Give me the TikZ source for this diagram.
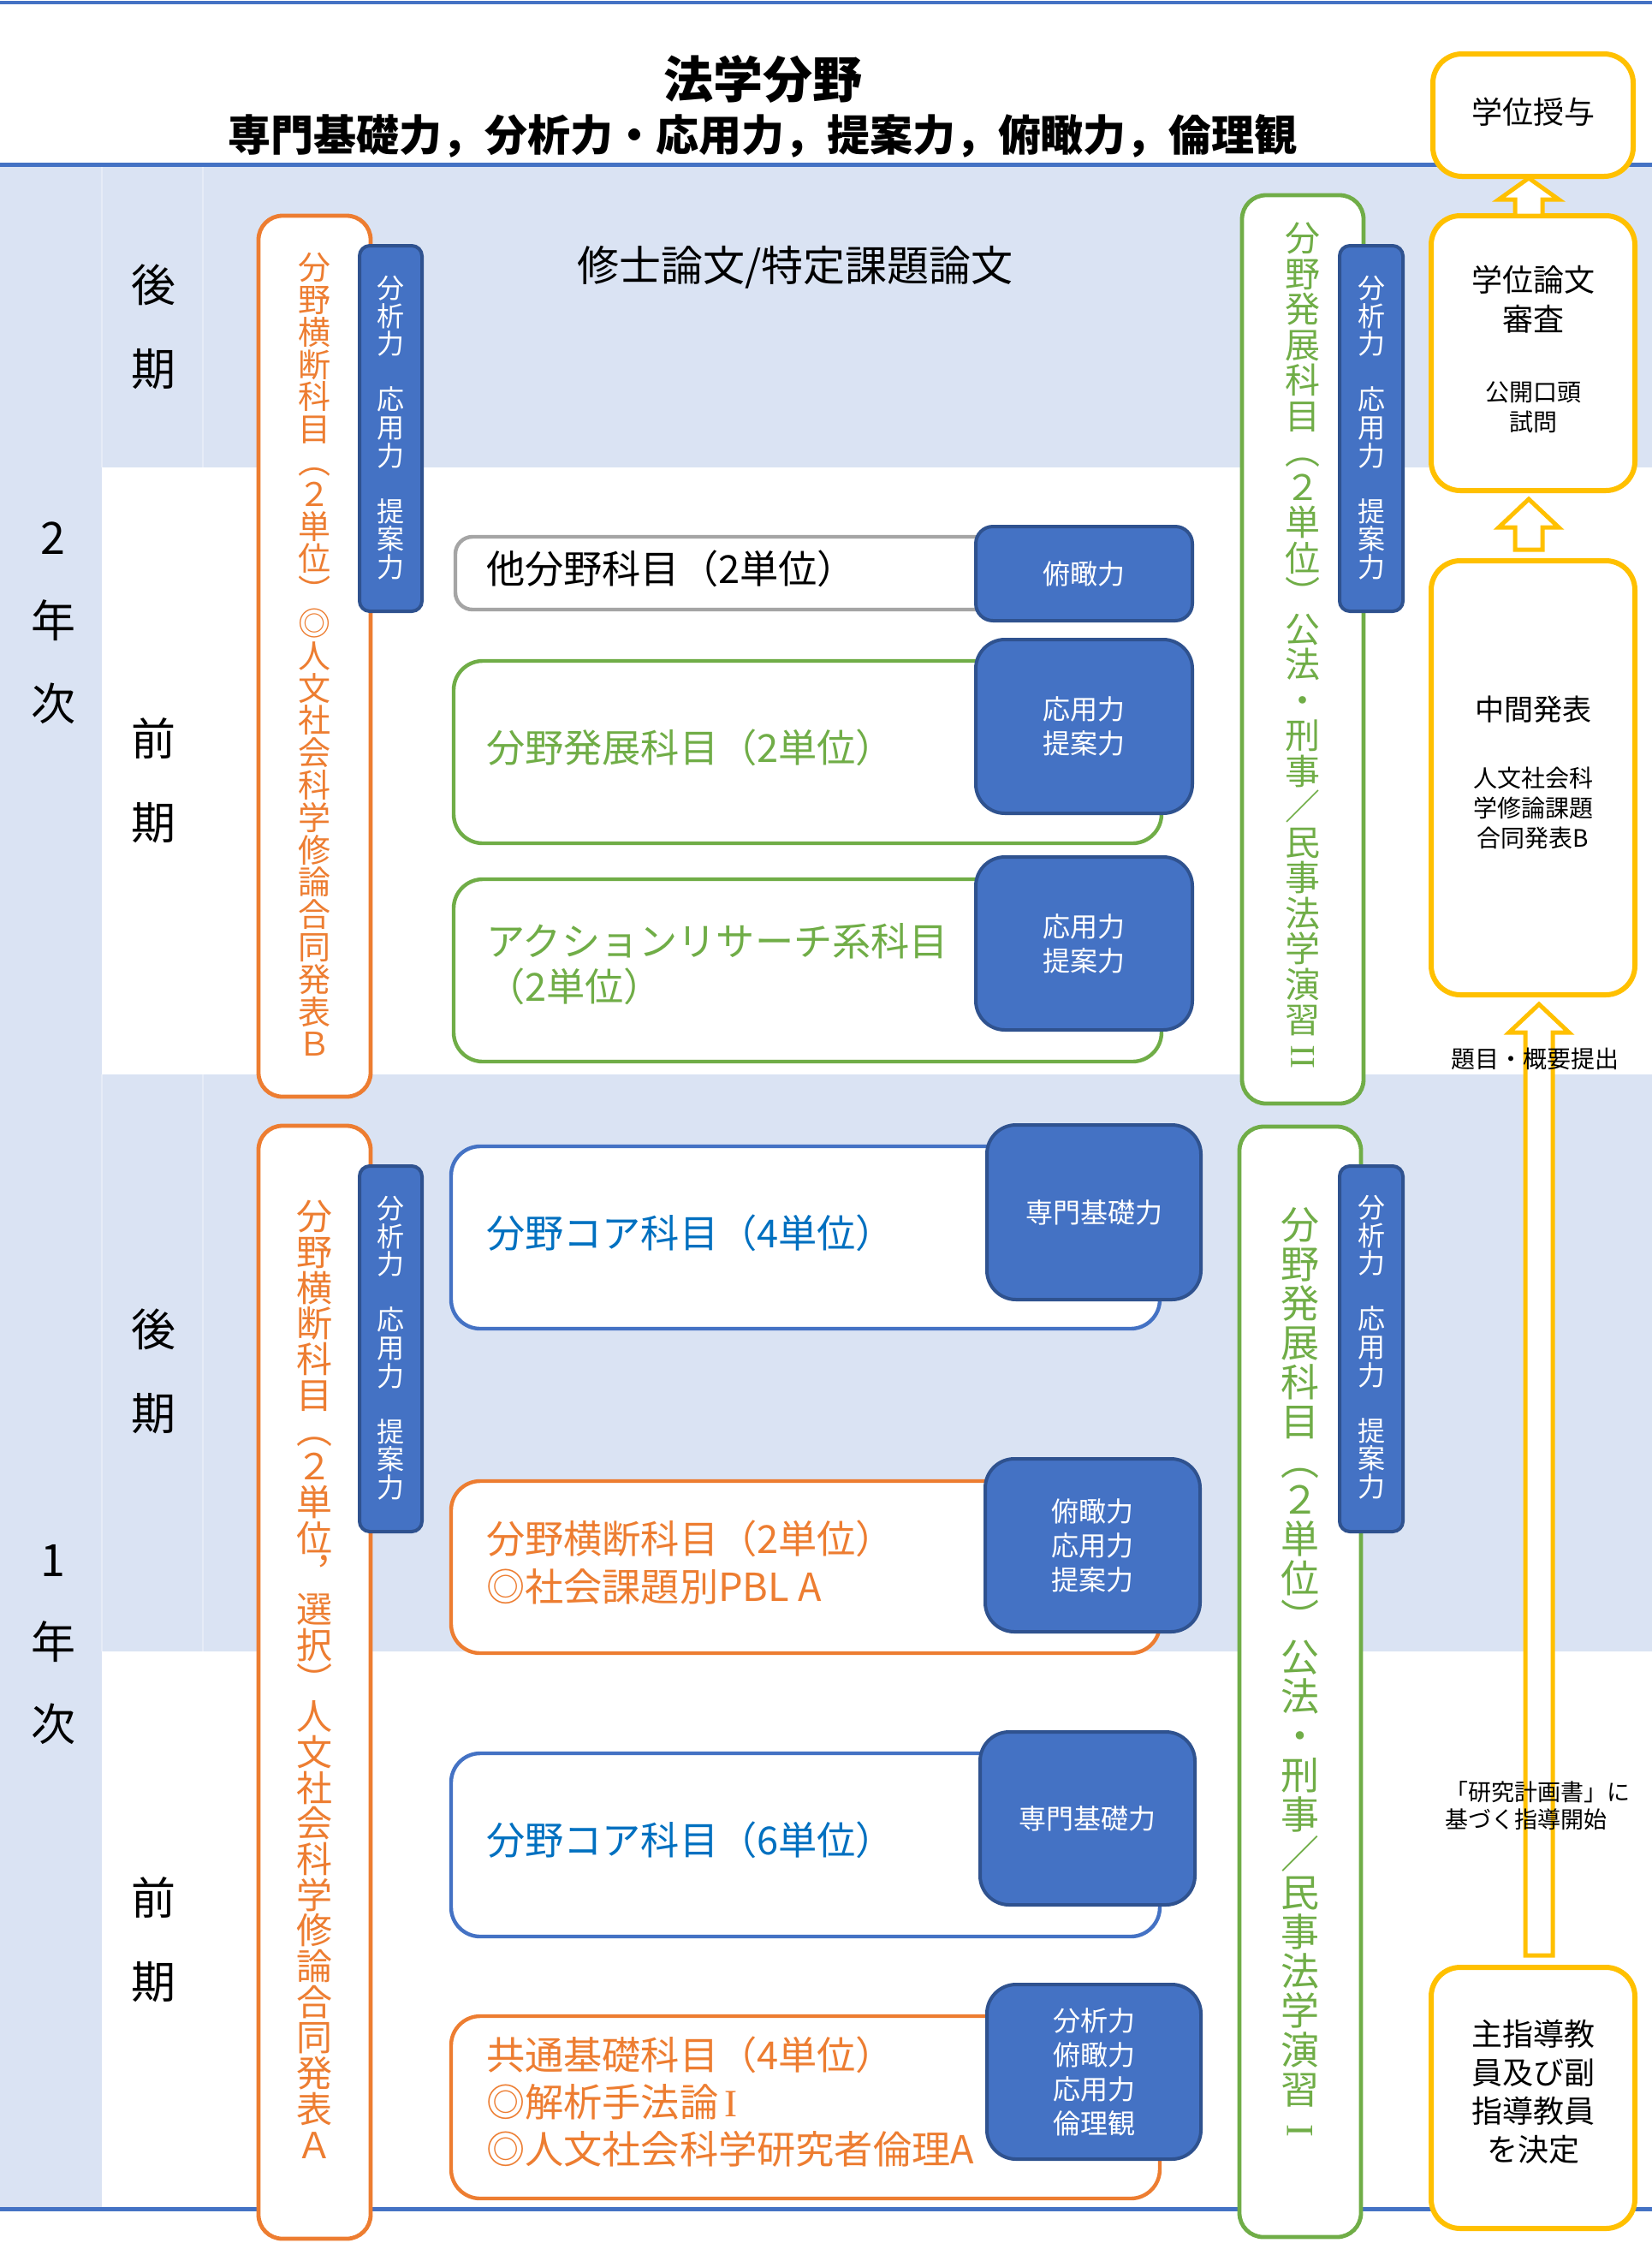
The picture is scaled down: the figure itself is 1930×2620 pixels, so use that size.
\documentclass[tikz,border=0pt]{standalone}
\usepackage{fontspec}
\usepackage{graphicx}
\setmainfont{Noto Sans CJK JP}
\newfontfamily\romanfont{Liberation Serif}
\usetikzlibrary{calc}
\definecolor{bandblue}{HTML}{DAE3F3}
\definecolor{faint}{HTML}{E6ECF7}
\definecolor{lineblue}{HTML}{4472C4}
\definecolor{cblue}{HTML}{4472C4}
\definecolor{cdark}{HTML}{2F528F}
\definecolor{corange}{HTML}{ED7D31}
\definecolor{cgreen}{HTML}{70AD47}
\definecolor{cgray}{HTML}{A5A5A5}
\definecolor{cyellow}{HTML}{FFC000}
\definecolor{tblue}{HTML}{0070C0}
\makeatletter
\newdimen\tatep
\newcommand\tate[2]{\tatep=#1\relax\vbox{\offinterlineskip\@tfor\tate@c:=#2\do{\hbox to 2\tatep{\hss\vrule height .88\tatep depth .12\tatep width 0pt\tate@c\hss}}}}
\makeatother
\newcommand\blockup[3]{%
 \draw[yarrow] let \p1=(#1), \p2=(#2) in
  (\x1-8pt,\y1) -- (\x1-8pt,\y2-#3) -- (\x1-17.5pt,\y2-#3) -- (\x1,\y2)
  -- (\x1+17.5pt,\y2-#3) -- (\x1+8pt,\y2-#3) -- (\x1+8pt,\y1) -- cycle;}
\begin{document}
\begin{tikzpicture}[x=0.5pt,y=-0.5pt,
  every node/.style={inner sep=0pt,outer sep=0pt},
  yel/.style={draw=cyellow,line width=3pt,fill=white,rounded corners=17pt},
  obox/.style={draw=corange,line width=2.4pt,fill=white,rounded corners=14pt},
  gbox/.style={draw=cgreen,line width=2.4pt,fill=white,rounded corners=14pt},
  course/.style={line width=2.2pt,fill=white,rounded corners=17pt},
  skill/.style={draw=cdark,line width=2pt,fill=cblue,rounded corners=17pt,text=white,align=center,font=\fontsize{16pt}{20pt}\selectfont},
  vskill/.style={draw=cdark,line width=2pt,fill=cblue,rounded corners=6pt},
  vtxt/.style={text=white,font=\fontsize{16pt}{16pt}\selectfont},
  yarrow/.style={draw=cyellow,line width=2.5pt,fill=white,line join=miter},
  ctext/.style={anchor=west,align=left,font=\fontsize{22.6pt}{26.5pt}\selectfont},
  bigl/.style={align=center,font=\fontsize{26pt}{49pt}\selectfont}]
\useasboundingbox (0,0) rectangle (1930,2620);
\fill[white] (0,0) rectangle (1930,2620);
% bands
\fill[bandblue] (0,194) rectangle (119,2578);
\fill[bandblue] (119,194) rectangle (1930,546);
\fill[bandblue] (119,1255) rectangle (1930,1929);
\draw[faint,line width=0.8pt] (119,194) -- (119,546) (237,194) -- (237,546);
\draw[faint,line width=0.8pt] (119,1255) -- (119,1929) (237,1255) -- (237,1929);
% horizontal rules
\draw[lineblue,line width=2pt] (0,3) -- (1930,3);
\draw[lineblue,line width=2.5pt] (0,192) -- (1930,192);
\draw[lineblue,line width=2.5pt] (0,2580) -- (1930,2580);
% header
\node[font=\bfseries\fontsize{29pt}{29pt}\selectfont] (title) at (891,93) {法学分野};
\node[font=\bfseries\fontsize{25pt}{25pt}\selectfont] (subtitle) at (891,159) {専門基礎力，分析力・応用力，提案力，俯瞰力，倫理観};
% year / semester labels
\node[bigl,font=\fontsize{26pt}{48.5pt}\selectfont] (y2) at (62,728) {2\\年\\次};
\node[bigl,font=\fontsize{26pt}{48pt}\selectfont] (y1) at (62,1921) {1\\年\\次};
\node[bigl] (s2b) at (179,382) {後\\期};
\node[bigl] (s2a) at (179,911.5) {前\\期};
\node[bigl] (s1b) at (179,1602) {後\\期};
\node[bigl] (s1a) at (179,2266) {前\\期};
% thesis label
\node[font=\fontsize{24.5pt}{24.5pt}\selectfont] (thesis) at (929,312) {修士論文/特定課題論文};
% vertical orange boxes
\node[obox,minimum width=65.5pt,minimum height=514.5pt] (oB) at (367.5,766.5) {};
\node[text=corange,font=\fontsize{19pt}{19pt}\selectfont] (oBt) at (367.5,766) {\tate{18.9pt}{分野横断科目︵２単位︶◎人文社会科学修論合同発表Ｂ}};
\node[obox,minimum width=65.5pt,minimum height=650pt] (oA) at (367.5,1965) {};
\node[text=corange,font=\fontsize{21pt}{21pt}\selectfont] (oAt) at (367.5,1963) {\tate{20.85pt}{分野横断科目︵２単位︐選択︶人文社会科学修論合同発表Ａ}};
% vertical green boxes
\node[gbox,minimum width=71pt,minimum height=530.5pt] (gII) at (1522,758.5) {};
\node[text=cgreen,font=\fontsize{20.5pt}{20.5pt}\selectfont] (gIIt) at (1522,755) {\tate{20.75pt}{分野発展科目︵２単位︶公法・刑事／民事法学演習{\rotatebox[origin=c]{90}{\romanfont II}}}};
\node[gbox,minimum width=71pt,minimum height=648.5pt] (gI) at (1519,1964.5) {};
\node[text=cgreen,font=\fontsize{22.5pt}{22.5pt}\selectfont] (gIt) at (1519,1958) {\tate{22.95pt}{分野発展科目︵２単位︶公法・刑事／民事法学演習{\rotatebox[origin=c]{90}{\romanfont I}}}};
% vertical skill boxes
\node[vskill,minimum width=36.5pt,minimum height=213.5pt] (vL2) at (456.5,500.5) {};
\node[vtxt] (vL2t) at (456.5,499) {\tate{16.3pt}{分析力　応用力　提案力}};
\node[vskill,minimum width=36.5pt,minimum height=213.5pt] (vL1) at (456.5,1575.5) {};
\node[vtxt] (vL1t) at (456.5,1574) {\tate{16.3pt}{分析力　応用力　提案力}};
\node[vskill,minimum width=37pt,minimum height=213.5pt] (vR2) at (1602,500.5) {};
\node[vtxt] (vR2t) at (1602,499) {\tate{16.3pt}{分析力　応用力　提案力}};
\node[vskill,minimum width=37pt,minimum height=213.5pt] (vR1) at (1602,1575.5) {};
\node[vtxt] (vR1t) at (1602,1573) {\tate{16.3pt}{分析力　応用力　提案力}};
% course boxes
\node[course,draw=cgray,rounded corners=10pt,minimum width=384pt,minimum height=42.5pt] (c1) at (916,669.5) {};
\node[course,draw=cgreen,minimum width=413.5pt,minimum height=106.5pt] (c2) at (943.5,878.5) {};
\node[course,draw=cgreen,minimum width=413.5pt,minimum height=106.5pt] (c3) at (943.5,1133.5) {};
\node[course,draw=lineblue,minimum width=414pt,minimum height=106.5pt] (c4) at (941,1445.5) {};
\node[course,draw=corange,minimum width=414pt,minimum height=100.5pt] (c5) at (941,1830.5) {};
\node[course,draw=lineblue,minimum width=414pt,minimum height=107pt] (c6) at (941,2155) {};
\node[course,draw=corange,minimum width=414pt,minimum height=106.5pt] (c7) at (941,2461.5) {};
% course texts
\node[ctext] (t1) at (568,664) {他分野科目（2単位）};
\node[ctext,text=cgreen] (t2) at (568,873) {分野発展科目（2単位）};
\node[ctext,text=cgreen] (t3) at (568,1126.5) {アクションリサーチ系科目\\（2単位）};
\node[ctext,text=tblue] (t4) at (568,1440) {分野コア科目（4単位）};
\node[ctext,text=corange,font=\fontsize{22.6pt}{28pt}\selectfont] (t5) at (568,1825) {分野横断科目（2単位）\\◎社会課題別PBL A};
\node[ctext,text=tblue] (t6) at (568,2149) {分野コア科目（6単位）};
\node[ctext,text=corange,font=\fontsize{22.6pt}{27.5pt}\selectfont] (t7) at (568,2455) {共通基礎科目（4単位）\\◎解析手法論\,{\romanfont I}\\◎人文社会科学研究者倫理A};
% skill boxes
\node[skill,rounded corners=10pt,minimum width=126.5pt,minimum height=55pt] (s1) at (1266.5,670) {俯瞰力};
\node[skill,minimum width=126.5pt,minimum height=101.5pt] (s2) at (1266.5,848.5) {応用力\\提案力};
\node[skill,minimum width=126.5pt,minimum height=101pt] (s3) at (1266.5,1102) {応用力\\提案力};
\node[skill,minimum width=125pt,minimum height=102pt] (s4) at (1278,1416) {専門基礎力};
\node[skill,minimum width=125.5pt,minimum height=101pt] (s5) at (1276.5,1805) {俯瞰力\\応用力\\提案力};
\node[skill,minimum width=125.5pt,minimum height=101pt] (s6) at (1270.5,2124) {専門基礎力};
\node[skill,minimum width=125pt,minimum height=102pt] (s7) at (1278,2420) {分析力\\俯瞰力\\応用力\\倫理観};
% right column
\node[yel,minimum width=117pt,minimum height=71.5pt] (deg) at (1791,134.5) {};
\node[font=\fontsize{18pt}{18pt}\selectfont] (degt) at (1791,131) {学位授与};
\node[yel,minimum width=119pt,minimum height=160.5pt] (exam) at (1791,412.5) {};
\node[align=center,font=\fontsize{18pt}{23pt}\selectfont] (examt) at (1791,350) {学位論文\\審査};
\node[align=center,font=\fontsize{14pt}{17.5pt}\selectfont] (examt2) at (1791,475.5) {公開口頭\\試問};
\node[yel,minimum width=119pt,minimum height=253.5pt] (mid) at (1791,908.5) {};
\node[font=\fontsize{17pt}{17pt}\selectfont] (midt) at (1791,829) {中間発表};
\node[align=center,font=\fontsize{14pt}{17.5pt}\selectfont] (midt2) at (1791,944) {人文社会科\\学修論課題\\合同発表B};
\node[yel,minimum width=119pt,minimum height=152.5pt] (sup) at (1791,2450.5) {};
\node[align=center,font=\fontsize{18pt}{22.5pt}\selectfont] (supt) at (1791,2443.5) {主指導教\\員及び副\\指導教員\\を決定};
% block arrows
\blockup{$(exam.north)+(-5,0)$}{$(deg.south)+(0,2)$}{12.5pt}
\blockup{$(mid.north)+(-5,-13)$}{$(exam.south)+(0,10)$}{16.5pt}
\blockup{$(sup.north)+(7,-14)$}{$(mid.south)+(7,11)$}{16.5pt}
% labels
\node[font=\fontsize{14pt}{14pt}\selectfont] (lbl1) at (1793,1237) {題目・概要提出};
\node[anchor=west,align=left,font=\fontsize{13.5pt}{16pt}\selectfont] (lbl2) at (1688,2109) {「研究計画書」に\\基づく指導開始};
\end{tikzpicture}
\end{document}
